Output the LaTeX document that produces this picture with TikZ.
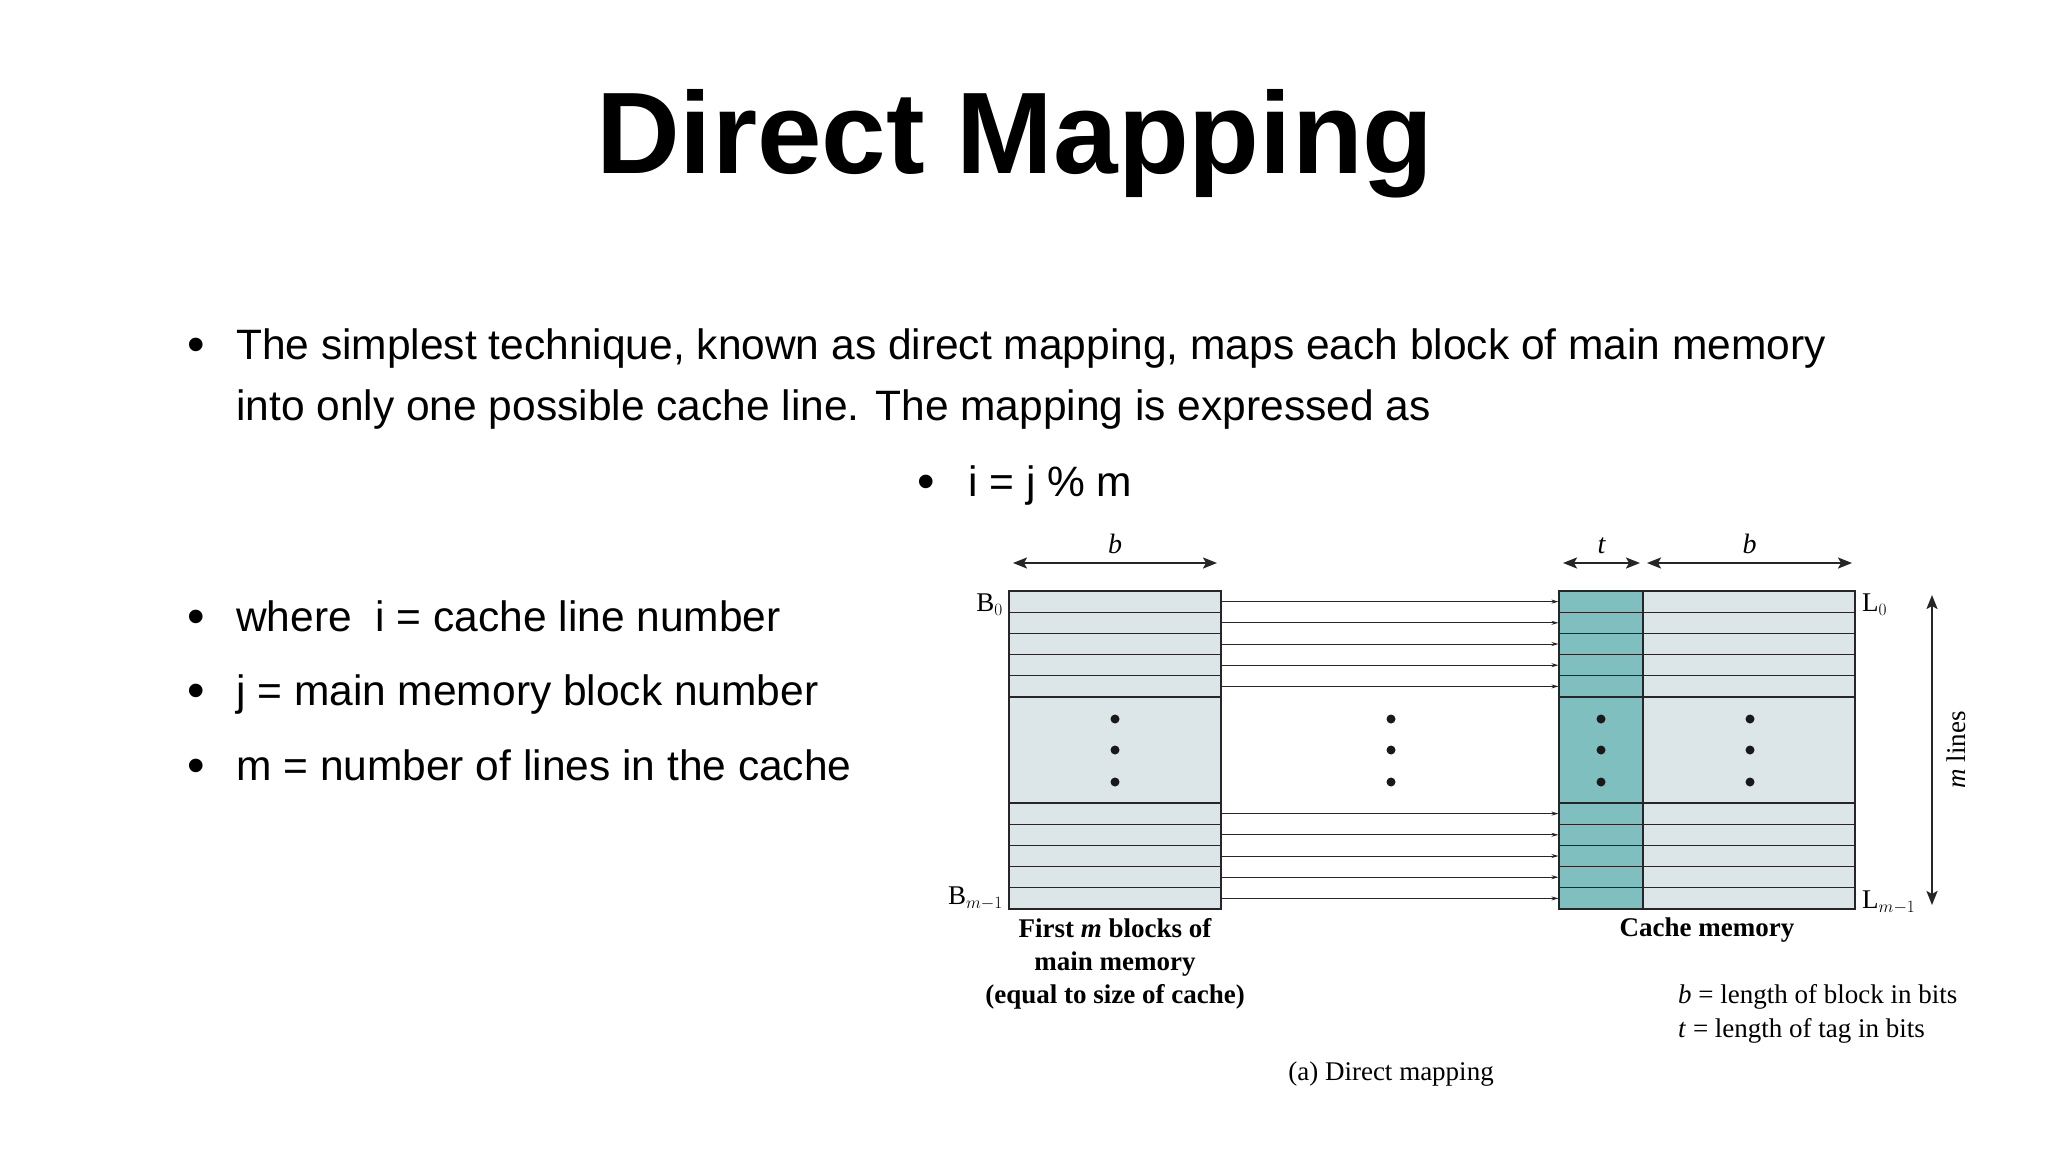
\documentclass[tikz,border=0pt]{standalone}
\usepackage{fontspec}
\setmainfont{Liberation Serif}
\newfontfamily\arial{Liberation Sans}
\usetikzlibrary{arrows.meta}
\definecolor{memfill}{HTML}{DCE6E8}
\definecolor{tagfill}{HTML}{80BFBF}
\tikzset{
  cell/.style={draw=black!85,line width=1.1pt,inner sep=0pt,minimum height=21.2pt},
  lcell/.style={cell,fill=memfill,minimum width=212pt},
  tcell/.style={cell,fill=tagfill,minimum width=84pt},
  dcell/.style={cell,fill=memfill,minimum width=212pt},
  map/.style={draw=black!85,line width=1pt,-{Stealth[length=7pt,width=4pt]}},
  dim/.style={draw=black!85,line width=2.2pt,{Stealth[length=14pt,width=11pt,inset=3pt]}-{Stealth[length=14pt,width=11pt,inset=3pt]}},
  dot/.style={circle,fill=black!90,inner sep=0pt,minimum size=9pt},
  body/.style={font=\arial\fontsize{42.5}{46}\selectfont,anchor=base west,inner sep=0pt},
  bul/.style={font=\arial\fontsize{50}{50}\selectfont,anchor=base,inner sep=0pt},
  lab/.style={font=\fontsize{27}{30}\selectfont,inner sep=0pt},
  blab/.style={font=\bfseries\fontsize{27}{33}\selectfont,inner sep=0pt,align=center}
}
\begin{document}
\begin{tikzpicture}[x=1pt,y=-1pt]
\useasboundingbox[fill=white] (0,0) rectangle (2048,1152);
\node[font=\arial\bfseries\fontsize{116}{126}\selectfont,anchor=base,inner sep=0pt] (title) at (1015,173) {Direct Mapping};
% bullets
\node[bul] (b1) at (196,361) {•};
\node[body] (t1) at (236,359) {The simplest technique, known as direct mapping, maps each block of main memory};
\node[body] (t2) at (236,420) {into only one possible cache line. The mapping is expressed as};
\node[bul] (b2) at (926,498) {•};
\node[body] (t3) at (968,496) {i = j \% m};
\node[bul] (b3) at (196,633) {•};
\node[body] (t4) at (236,631) {where\ \ i = cache line number};
\node[bul] (b4) at (196,707) {•};
\node[body] (t5) at (236,705) {j = main memory block number};
\node[bul] (b5) at (196,782) {•};
\node[body] (t6) at (236,780) {m = number of lines in the cache};
% middle blocks
\node[lcell,minimum height=106pt] (lm) at (1115,750) {};
\node[tcell,minimum height=106pt] (tm) at (1601,750) {};
\node[dcell,minimum height=106pt] (dm) at (1749,750) {};
\foreach \i in {1,...,5}{
  \pgfmathsetmacro{\ya}{591+21.2*(\i-0.5)}
  \pgfmathsetmacro{\yb}{803+21.2*(\i-0.5)}
  \node[lcell] (la\i) at (1115,\ya) {};
  \node[tcell] (ta\i) at (1601,\ya) {};
  \node[dcell] (da\i) at (1749,\ya) {};
  \node[lcell] (lb\i) at (1115,\yb) {};
  \node[tcell] (tb\i) at (1601,\yb) {};
  \node[dcell] (db\i) at (1749,\yb) {};
  \draw[map] (la\i.east) -- (ta\i.west);
  \draw[map] (lb\i.east) -- (tb\i.west);
}
\draw[draw=black!85,line width=1.5pt] (ta1.north east) -- (tb5.south east);
\foreach \y [count=\k] in {719,750,782}{
  \node[dot] (d1\k) at (1115,\y) {};
  \node[dot] (d2\k) at (1391,\y) {};
  \node[dot] (d3\k) at (1601,\y) {};
  \node[dot] (d4\k) at (1750,\y) {};
}
% dimension arrows
\coordinate (bl1) at (1013,563); \coordinate (bl2) at (1217,563);
\coordinate (tl1) at (1563,563); \coordinate (tl2) at (1640,563);
\coordinate (bc1) at (1647,563); \coordinate (bc2) at (1852,563);
\coordinate (ml1) at (1932,595); \coordinate (ml2) at (1932,905);
\draw[dim] (bl1) -- node[lab,above=8pt,font=\itshape\fontsize{28}{30}\selectfont] {b} (bl2);
\draw[dim] (tl1) -- node[lab,above=8pt,font=\itshape\fontsize{28}{30}\selectfont] {t} (tl2);
\draw[dim] (bc1) -- node[lab,above=8pt,font=\itshape\fontsize{28}{30}\selectfont] {b} (bc2);
\draw[dim] (ml1) -- node[lab,right=14pt,rotate=90,anchor=north] {\textit{m} lines} (ml2);
% labels
\node[lab,anchor=east] (B0) at (1003,605) {B$_0$};
\node[lab,anchor=east] (Bm) at (1003,898) {B$_{m-1}$};
\node[lab,anchor=west] (L0) at (1862,605) {L$_0$};
\node[lab,anchor=west] (Lm) at (1862,902) {L$_{m-1}$};
\node[blab,anchor=north] (fm) at (1115,918) {First \textit{m} blocks of\\main memory\\(equal to size of cache)};
\node[blab,anchor=north] (cm) at (1707,918) {Cache memory};
\node[lab,anchor=base west] (lg1) at (1678,1003) {\textit{b} = length of block in bits};
\node[lab,anchor=base west] (lg2) at (1678,1037) {\textit{t} = length of tag in bits};
\node[lab,anchor=base] (cap) at (1391,1080) {(a) Direct mapping};
\end{tikzpicture}
\end{document}
